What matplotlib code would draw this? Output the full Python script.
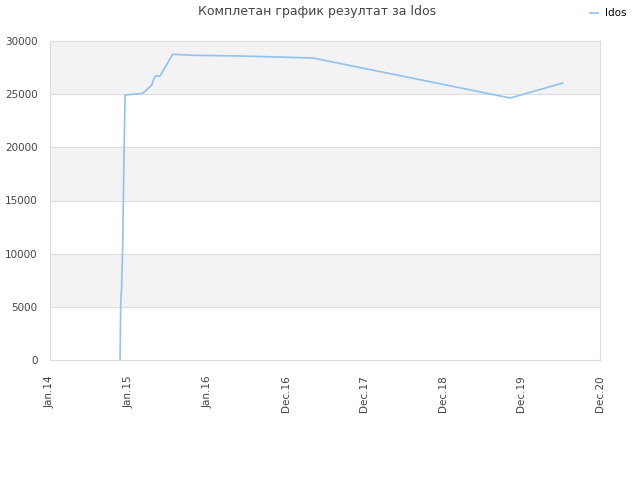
import matplotlib
matplotlib.use("Agg")
import matplotlib.pyplot as plt

# data: days since Jan 1 2014, cumulative result
days = [321, 324, 328, 333, 339, 344, 425, 466, 481, 504, 562, 664, 870, 1085, 1205, 2108, 2350]
values = [0, 5360, 6770, 10650, 19180, 24920, 25080, 25860, 26710, 26710, 28750, 28650, 28590, 28470, 28400, 24640, 26050]
tick_labels = ["Jan.14", "Jan.15", "Jan.16", "Dec.16", "Dec.17", "Dec.18", "Dec.19", "Dec.20"]
tick_step = 360
y_ticks = [0, 5000, 10000, 15000, 20000, 25000, 30000]
series_name = "ldos"
title = "Комплетан график резултат за ldos"

line_color = "#90c3f0"
grid_color = "#dddddd"

fig = plt.figure(figsize=(6.4, 4.8), dpi=100)
ax = fig.add_axes([50 / 640, 120 / 480, 550 / 640, 319 / 480])

# alternating bands
for i in range(len(y_ticks) - 1):
    if i % 2 == 1:
        ax.axhspan(y_ticks[i], y_ticks[i + 1], color="#f3f3f3", zorder=0, lw=0)
for y in y_ticks[1:-1]:
    ax.axhline(y, color=grid_color, lw=0.8, zorder=1)

ax.plot(days, values, color=line_color, lw=1.2, label=series_name, zorder=3)

ax.set_xlim(0, tick_step * (len(tick_labels) - 1))
ax.set_ylim(0, 30000)
ax.set_xticks([i * tick_step for i in range(len(tick_labels))])
ax.set_xticklabels(tick_labels, rotation=90)
ax.set_yticks(y_ticks)
ax.tick_params(length=0, labelsize=7.5, colors="#444444")
ax.tick_params(axis="x", pad=11)
ax.tick_params(axis="y", pad=9)
for s in ax.spines.values():
    s.set_color(grid_color)

fig.text(0.495, 0.975, title, ha="center", va="center", fontsize=9, color="#444444")
fig.legend(loc="center right", bbox_to_anchor=(0.985, 0.972), frameon=False,
           handlelength=0.8, fontsize=7.5, handletextpad=0.6, borderaxespad=0)

fig.savefig("out.png", dpi=100)
